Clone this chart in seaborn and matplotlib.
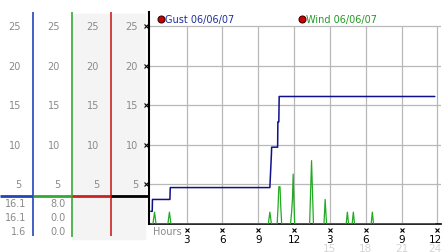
import matplotlib
matplotlib.use("Agg")
import matplotlib.pyplot as plt
from matplotlib.patches import Rectangle
import seaborn as sns
import pandas as pd

# ---------------- data ----------------
gust_hours = [0.0, 0.12, 0.14, 1.6, 1.63, 9.97, 10.1, 10.12, 10.62, 10.64, 10.72, 10.75, 23.78]
gust_values = [1.6, 1.6, 3.1, 3.1, 4.6, 4.6, 8.8, 9.7, 9.7, 12.9, 12.9, 16.1, 16.1]

wind_hours = [0.0, 0.18, 0.31, 0.44, 1.43, 1.56, 1.69, 9.84, 9.97, 10.1,
              10.58, 10.66, 10.72, 10.82, 10.88, 10.96,
              11.7, 11.79, 11.86, 11.92, 11.98, 12.05,
              13.3, 13.38, 13.46, 13.54, 13.62,
              14.5, 14.55, 14.6, 14.66, 14.72,
              16.36, 16.46, 16.56, 16.86, 16.96, 17.06, 18.45, 18.55, 18.65, 23.78]
wind_values = [0.0, 0.0, 1.5, 0.0, 0.0, 1.5, 0.0, 0.0, 1.5, 0.0,
               0.0, 2.3, 4.7, 4.7, 2.3, 0.0,
               0.0, 1.5, 3.1, 6.3, 3.1, 0.0,
               0.0, 4.0, 8.0, 4.0, 0.0,
               0.0, 1.5, 3.1, 1.5, 0.0,
               0.0, 1.5, 0.0, 0.0, 1.5, 0.0, 0.0, 1.5, 0.0, 0.0]

y_ticks = [5, 10, 15, 20, 25]
x_ticks = [3, 6, 9, 12, 15, 18, 21, 24]
x_labels_top = ["3", "6", "9", "12", "3", "6", "9", "12"]
x_labels_bottom = ["15", "18", "21", "24"]
gust_summary = ["16.1", "16.1", "1.6"]
wind_summary = ["8.0", "0.0", "0.0"]
legend_labels = ["Gust 06/06/07", "Wind 06/06/07"]

# ---------------- styling ----------------
sns.set_style("white")
plt.rcParams["font.family"] = ["DejaVu Sans"]

W, H = 442, 253
fig = plt.figure(figsize=(W / 100, H / 100), dpi=100)

def fx(px):
    return px / W

def fy(py):
    return 1 - py / H

GRID = "#b8b8b8"
LABEL = "#8a8a8a"
BLUE = "#2244bb"
GREEN = "#33a833"
RED = "#cc2222"
GUST = "#10108a"
WIND = "#22aa22"

YTOP = 26.77
# main axes
ax = fig.add_axes([fx(149), fy(225), fx(441) - fx(149), fy(13) - fy(225)])
ax.set_xlim(-0.15, 24.3)
ax.set_ylim(0, YTOP)
for s in ["top", "right"]:
    ax.spines[s].set_visible(False)
ax.spines["left"].set_color("black")
ax.spines["left"].set_linewidth(1.5)
ax.spines["bottom"].set_color("black")
ax.spines["bottom"].set_linewidth(1.2)
ax.set_xticks([])
ax.set_yticks([])
ax.set_facecolor("white")
for yv in y_ticks:
    ax.axhline(yv, color=GRID, lw=0.9, zorder=0)
ax.vlines(x_ticks, 0, 25, color=GRID, lw=0.9, zorder=0)

gdf = pd.DataFrame({"hour": gust_hours, "value": gust_values})
wdf = pd.DataFrame({"hour": wind_hours, "value": wind_values})
sns.lineplot(data=wdf, x="hour", y="value", ax=ax, color=WIND, lw=0.9,
             estimator=None, sort=False, zorder=3)
sns.lineplot(data=gdf, x="hour", y="value", ax=ax, color=GUST, lw=1.1,
             estimator=None, sort=False, zorder=4)
ax.set_xlabel("")
ax.set_ylabel("")

ppu = (225 - 13) / YTOP  # px per unit
def dy(py):
    return (225 - py) / ppu

# x tick marks and labels (last label nudged inward so it stays inside the image)
label_pos = [xv if xv < 24 else 23.8 for xv in x_ticks]
ax.plot(x_ticks, [dy(231)] * len(x_ticks), ls="none", marker="x", ms=2.5,
        mew=0.8, color="black", clip_on=False)
for xv, lab in zip(label_pos, x_labels_top):
    ax.text(xv, dy(240), lab, ha="center", va="center", fontsize=7.5,
            color="black", clip_on=False)
for xv, lab in zip(label_pos[4:], x_labels_bottom):
    ax.text(xv, dy(249), lab, ha="center", va="center", fontsize=7.5,
            color="#d4d4d4", clip_on=False)
ax.text(0.18, dy(232), "Hours", ha="left", va="center", fontsize=7,
        color=LABEL, clip_on=False)

# left panel
lax = fig.add_axes([0, 0, fx(149), fy(13)])
lax.set_xlim(0, 149)
lax.set_ylim(dy(253), YTOP)
lax.axis("off")
lax.add_patch(Rectangle((73, dy(240)), 72, dy(15) - dy(240), color="#f4f4f4", zorder=0))
for xr in [21, 60, 99, 138]:
    for yv in y_ticks:
        lax.text(xr, yv, str(yv), ha="right", va="center", fontsize=7, color=LABEL)
lax.plot([146] * len(y_ticks), y_ticks, ls="none", marker="x", ms=2.5, mew=0.8,
         color="black", clip_on=False)
rows = [dy(204), dy(218), dy(232)]
for yv, lab in zip(rows, gust_summary):
    lax.text(26, yv, lab, ha="right", va="center", fontsize=7, color=LABEL)
for yv, lab in zip(rows, wind_summary):
    lax.text(66, yv, lab, ha="right", va="center", fontsize=7, color=LABEL)
lax.vlines([33], dy(237), YTOP, color=BLUE, lw=1.2)
lax.vlines([72], dy(238), YTOP, color=GREEN, lw=1.2)
lax.vlines([111], dy(237), YTOP, color=RED, lw=1.2)
hy = dy(197)
for (x0, x1), c in zip([(0, 33), (33, 72), (72, 111), (111, 149)], [BLUE, GREEN, RED, "black"]):
    lax.plot([x0, x1], [hy, hy], color=c, lw=2.0, solid_capstyle="butt")

# legend
for mx, tx, lab, col in [(161, 165, legend_labels[0], "#1e2ea0"),
                         (302, 306, legend_labels[1], "#239a23")]:
    fig.lines.append(plt.Line2D([fx(mx)], [fy(20)], marker="o", ms=5, mfc="#cc0000",
                                mec="#440000", mew=0.8, ls="none",
                                transform=fig.transFigure))
    fig.text(fx(tx), fy(20), lab, ha="left", va="center", fontsize=7, color=col)

fig.savefig("out.png", dpi=100)
